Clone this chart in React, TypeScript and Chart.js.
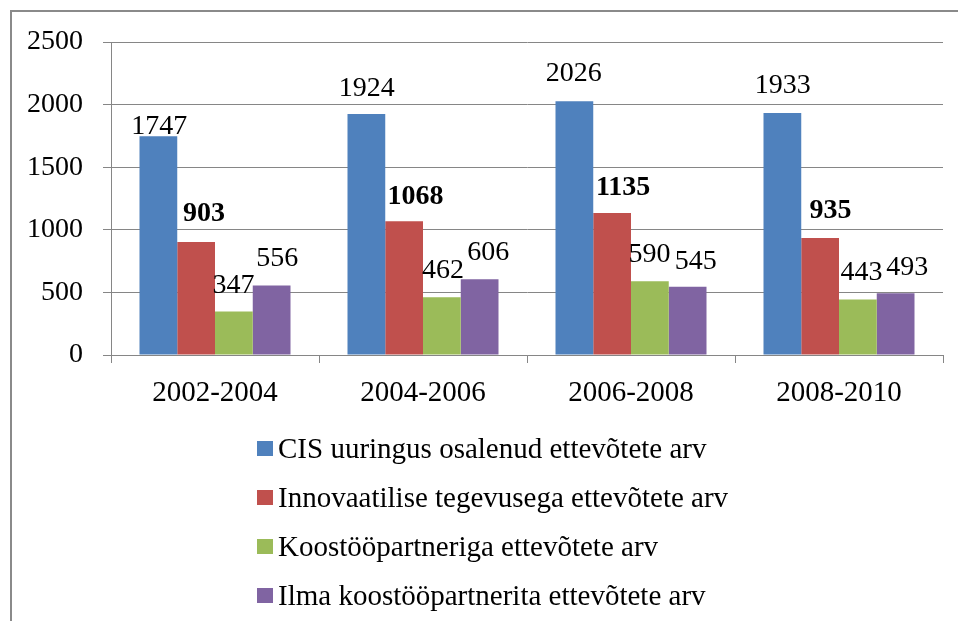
import React, { useEffect, useRef } from "react";
import { Chart, registerables } from "chart.js";

Chart.register(...registerables);

const categories = ["2002-2004", "2004-2006", "2006-2008", "2008-2010"];
const seriesNames = [
  "CIS uuringus osalenud ettevõtete arv",
  "Innovaatilise tegevusega ettevõtete arv",
  "Koostööpartneriga ettevõtete arv",
  "Ilma koostööpartnerita ettevõtete arv",
];
const cisValues = [1747, 1924, 2026, 1933];
const innovativeValues = [903, 1068, 1135, 935];
const partnerValues = [347, 462, 590, 443];
const noPartnerValues = [556, 606, 545, 493];
const yTickValues = [0, 500, 1000, 1500, 2000, 2500];

const seriesColors = ["#4F81BD", "#C0504D", "#9BBB59", "#8064A2"];
const boldLabelSeries = [false, true, false, false];
// label nudges (px) relative to bar centre / bar top, per series then category
const labelShiftX = [
  [1, 0.5, -0.5, 0.5],
  [8, 11.5, 11, 10.5],
  [-0.5, 1, -0.5, 3.5],
  [5.5, 8.5, 8, 11.5],
];
const labelGap = [
  [2, 18, 20, 20],
  [21, 17, 18, 20],
  [19, 19, 19, 20],
  [19, 19, 18, 18],
];

const FONT = "'Liberation Serif', 'Times New Roman', serif";
const GRID = "#868686";

const dataLabelPlugin = {
  id: "dataLabels",
  afterDatasetsDraw(chart: any) {
    const ctx = chart.ctx;
    ctx.save();
    ctx.fillStyle = "#000";
    ctx.textAlign = "center";
    ctx.textBaseline = "alphabetic";
    chart.data.datasets.forEach((ds: any, i: number) => {
      const meta = chart.getDatasetMeta(i);
      ctx.font = `${boldLabelSeries[i] ? "bold " : ""}28px ${FONT}`;
      meta.data.forEach((bar: any, j: number) => {
        ctx.fillText(String(ds.data[j]), bar.x + labelShiftX[i][j], bar.y - labelGap[i][j]);
      });
    });
    ctx.restore();
  },
};

const legendPlugin = {
  id: "customLegend",
  afterDraw(chart: any) {
    const ctx = chart.ctx;
    ctx.save();
    ctx.font = `29px ${FONT}`;
    ctx.textBaseline = "alphabetic";
    ctx.textAlign = "left";
    const left = 257;
    const firstBaseline = 458;
    const step = 49;
    chart.data.datasets.forEach((ds: any, i: number) => {
      const base = firstBaseline + i * step;
      ctx.fillStyle = ds.backgroundColor;
      ctx.fillRect(left, base - 17, 16, 15);
      ctx.fillStyle = "#000";
      ctx.fillText(ds.label, left + 21, base);
    });
    ctx.restore();
  },
};

export default function App() {
  const canvasRef = useRef<HTMLCanvasElement | null>(null);

  useEffect(() => {
    if (!canvasRef.current) return;
    const seriesValues = [cisValues, innovativeValues, partnerValues, noPartnerValues];
    const chart = new Chart(canvasRef.current, {
      type: "bar",
      data: {
        labels: categories,
        datasets: seriesValues.map((vals, i) => ({
          label: seriesNames[i],
          data: vals,
          backgroundColor: seriesColors[i],
          borderWidth: 0,
          barPercentage: 1,
          categoryPercentage: 0.726,
        })),
      },
      options: {
        responsive: false,
        animation: false,
        devicePixelRatio: 1,
        layout: { padding: { left: 0, top: 42, right: 15, bottom: 216 } },
        plugins: {
          legend: { display: false },
          tooltip: { enabled: false },
        },
        scales: {
          x: {
            afterFit: (scale: any) => {
              scale.height = 50;
            },
            grid: {
              display: true,
              drawOnChartArea: false,
              drawTicks: true,
              tickLength: 8,
              color: GRID,
              lineWidth: 1,
            },
            border: { display: true, color: GRID, width: 1 },
            ticks: {
              color: "#000",
              font: { family: FONT, size: 29 },
              padding: 13,
              maxRotation: 0,
            },
          },
          y: {
            min: 0,
            max: 2500,
            afterFit: (scale: any) => {
              scale.width = 111;
            },
            afterBuildTicks: (scale: any) => {
              scale.ticks = yTickValues.map((v) => ({ value: v }));
            },
            grid: {
              color: GRID,
              lineWidth: 1,
              tickLength: 8,
            },
            border: { display: true, color: GRID, width: 1 },
            ticks: {
              color: "#000",
              font: { family: FONT, size: 28 },
              padding: 20,
              callback: (v: any) => String(v),
            },
          },
        },
      },
      plugins: [dataLabelPlugin, legendPlugin],
    });
    return () => chart.destroy();
  }, []);

  return (
    <div>
      <div
        style={{
          position: "fixed",
          left: 10,
          top: 10,
          width: 1000,
          height: 700,
          borderLeft: "2px solid #8a8a8a",
          borderTop: "2px solid #8a8a8a",
          background: "#fff",
        }}
      />
      <canvas
        ref={canvasRef}
        width={958}
        height={621}
        style={{ position: "fixed", left: 0, top: 0, width: 958, height: 621 }}
      />
    </div>
  );
}
